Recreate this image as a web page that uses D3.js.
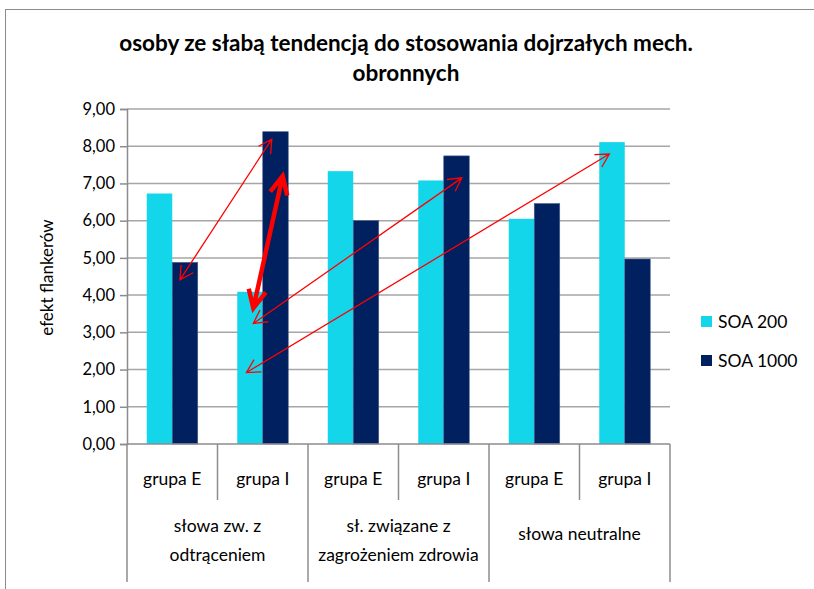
<!DOCTYPE html>
<meta charset="utf-8">
<style>
	body { margin: 0; background: #fff; }
	text { font-family: Lato, "Open Sans", sans-serif; fill: #000; }
	.title { font-weight: bold; font-size: 22.5px; text-anchor: middle; }
	.tick text { font-size: 16.5px; }
	.cat { font-size: 17.5px; text-anchor: middle; }
	.legend text { font-size: 17.5px; }
</style>
<body>
<script src="https://d3js.org/d3.v7.min.js"></script>
<script>

	var groups = ["słowa zw.  z|odtrąceniem", "sł. związane  z|zagrożeniem zdrowia", "słowa neutralne"];
	var subgroups = ["grupa E", "grupa I"];
	var series = ["SOA 200", "SOA 1000"];
	var soa200 = [6.73, 4.09, 7.33, 7.08, 6.05, 8.11];
	var soa1000 = [4.88, 8.39, 6.00, 7.74, 6.46, 4.97];
	var yTicks = [0, 1, 2, 3, 4, 5, 6, 7, 8, 9];

	// annotation arrows: [category, fraction of band, value] -> [category, fraction, value]
	var arrows = [
		{from: [0, 0.585, 4.41], to: [1, 0.60, 8.19], thick: false},
		{from: [1, 0.396, 3.65], to: [1, 0.72, 7.20], thick: true},
		{from: [1, 0.396, 3.24], to: [3, 0.70, 7.15], thick: false},
		{from: [1, 0.32, 1.92], to: [5, 0.33, 7.79], thick: false}
	];

	var width = 814,
		height = 589;
	var plotL = 127, plotR = 670, plotT = 109, plotB = 444;

	var svg = d3.select("body").append("svg")
		.attr("width", width)
		.attr("height", height);

	// chart frame
	svg.append("rect")
		.attr("x", 5.5).attr("y", 9.5)
		.attr("width", 820).attr("height", 600)
		.attr("fill", "none")
		.attr("stroke", "#8c8c8c");

	var cats = d3.range(6);
	var x = d3.scaleBand().domain(cats).range([plotL, plotR]);
	var xs = d3.scaleBand().domain(series).range([0, x.bandwidth()]).paddingOuter(0.775);
	var y = d3.scaleLinear().domain([0, 9]).range([plotB, plotT]);

	var color = d3.scaleOrdinal().domain(series).range(["#14d6ea", "#002060"]);

	// gridlines
	svg.append("g").selectAll("line")
		.data(yTicks.slice(1))
		.enter().append("line")
		.attr("x1", plotL).attr("x2", plotR)
		.attr("y1", function(d) { return y(d); })
		.attr("y2", function(d) { return y(d); })
		.attr("stroke", "#a6a6a6")
		.attr("stroke-width", 1.5);

	// y axis
	var yAxis = svg.append("g")
		.attr("transform", "translate(" + plotL + ",0)")
		.call(d3.axisLeft(y).tickValues(yTicks).tickSize(7).tickPadding(5)
			.tickFormat(function(d) { return d3.format(".2f")(d).replace(".", ","); }));
	yAxis.select(".domain").attr("stroke", "#8c8c8c").attr("stroke-width", 1.5);
	yAxis.selectAll(".tick line").attr("stroke", "#8c8c8c").attr("stroke-width", 1.5);
	yAxis.selectAll(".tick text").attr("fill", "#000").style("font-family", "Lato, sans-serif");

	svg.append("text")
		.attr("transform", "translate(47," + ((plotT + plotB) / 2 + 1) + ") rotate(-90)")
		.attr("text-anchor", "middle")
		.attr("dy", "0.35em")
		.style("font-size", "17px")
		.text("efekt flankerów");

	// bars
	var data = cats.map(function(i) { return {i: i, values: [soa200[i], soa1000[i]]}; });
	var cat = svg.append("g").selectAll("g")
		.data(data)
		.enter().append("g")
		.attr("transform", function(d) { return "translate(" + x(d.i) + ",0)"; });

	cat.selectAll("rect")
		.data(function(d) { return d.values.map(function(v, k) { return {s: series[k], v: v}; }); })
		.enter().append("rect")
		.attr("x", function(d) { return xs(d.s); })
		.attr("width", xs.bandwidth())
		.attr("y", function(d) { return y(d.v); })
		.attr("height", function(d) { return plotB - y(d.v); })
		.attr("fill", function(d) { return color(d.s); })
		.attr("stroke", function(d) { return d.s === series[1] ? "#4a5f8a" : "none"; })
		.attr("stroke-width", 0.6);

	// x axis line and separators
	svg.append("line")
		.attr("x1", plotL).attr("x2", plotR)
		.attr("y1", plotB).attr("y2", plotB)
		.attr("stroke", "#8c8c8c").attr("stroke-width", 1.5);

	svg.append("g").selectAll("line")
		.data(cats.concat([6]))
		.enter().append("line")
		.attr("x1", function(i) { return i < 6 ? x(i) : plotR; })
		.attr("x2", function(i) { return i < 6 ? x(i) : plotR; })
		.attr("y1", plotB)
		.attr("y2", function(i) { return i % 2 === 0 ? 582 : 500; })
		.attr("stroke", "#8c8c8c").attr("stroke-width", 1.5);

	svg.append("g").selectAll("text")
		.data(cats)
		.enter().append("text")
		.attr("class", "cat")
		.attr("x", function(i) { return x(i) + x.bandwidth() / 2; })
		.attr("y", 485)
		.text(function(i) { return subgroups[i % 2]; });

	var gl = svg.append("g").selectAll("text")
		.data(groups)
		.enter().append("text")
		.attr("class", "cat")
		.attr("x", function(d, i) { return x(i * 2 + 1); })
		.attr("y", function(d) { return d.indexOf("|") >= 0 ? 532 : 540; });
	gl.selectAll("tspan")
		.data(function(d) { return d.split("|"); })
		.enter().append("tspan")
		.attr("x", function() { return d3.select(this.parentNode).attr("x"); })
		.attr("dy", function(d, k) { return k === 0 ? 0 : 29; })
		.text(function(d) { return d; });

	// arrows
	function pt(p) { return [x(p[0]) + p[1] * x.bandwidth(), y(p[2])]; }
	function head(tip, tail, len, ang) {
		var a = Math.atan2(tail[1] - tip[1], tail[0] - tip[0]);
		var p1 = [tip[0] + len * Math.cos(a + ang), tip[1] + len * Math.sin(a + ang)];
		var p2 = [tip[0] + len * Math.cos(a - ang), tip[1] + len * Math.sin(a - ang)];
		return "M" + p1 + "L" + tip + "L" + p2;
	}
	svg.append("g").selectAll("path")
		.data(arrows)
		.enter().append("path")
		.attr("d", function(d) {
			var a = pt(d.from), b = pt(d.to);
			var len = d.thick ? 20 : 15, ang = d.thick ? 0.45 : 0.5;
			return "M" + a + "L" + b + head(a, b, len, ang) + head(b, a, len, ang);
		})
		.attr("fill", "none")
		.attr("stroke", "#ff0000")
		.attr("stroke-width", function(d) { return d.thick ? 4.5 : 1.3; })
		.attr("stroke-linejoin", "miter");

	// title
	svg.append("text").attr("class", "title").attr("x", 406).attr("y", 51)
		.text("osoby ze słabą tendencją do stosowania dojrzałych mech.");
	svg.append("text").attr("class", "title").attr("x", 406).attr("y", 81)
		.text("obronnych");

	// legend
	var legend = svg.append("g").attr("class", "legend").selectAll("g")
		.data(series)
		.enter().append("g")
		.attr("transform", function(d, i) { return "translate(701," + (316 + i * 39) + ")"; });
	legend.append("rect")
		.attr("width", 11).attr("height", 11)
		.attr("fill", color);
	legend.append("text")
		.attr("x", 17).attr("y", 6).attr("dy", "0.35em")
		.text(function(d) { return d; });
</script>
